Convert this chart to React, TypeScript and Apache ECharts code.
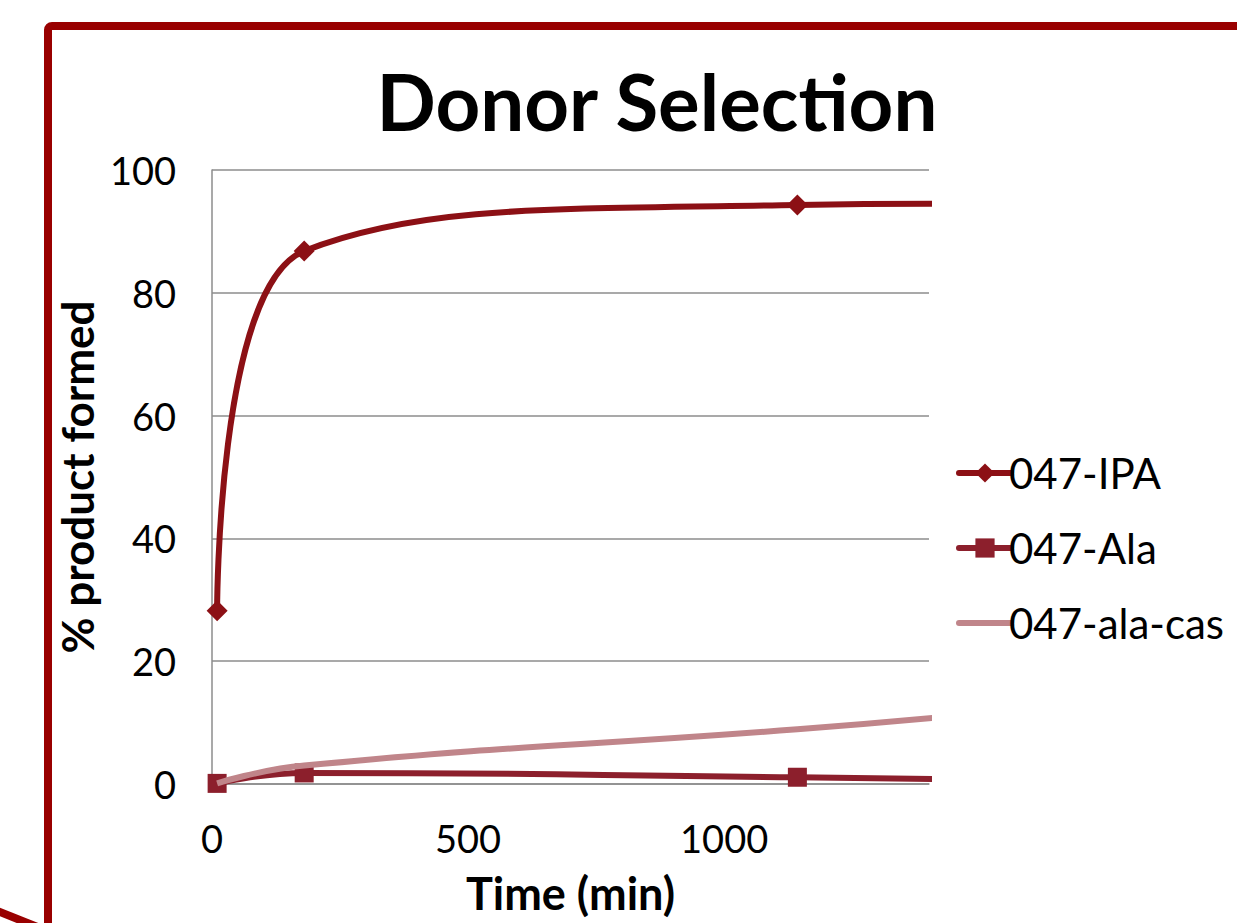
import React, { useEffect, useRef } from "react";
import * as echarts from "echarts";

const titleText = "Donor Selection";
const seriesNames = ["047-IPA", "047-Ala", "047-ala-cas"];
const timeIPA = [10, 180, 1143, 1440];
const valIPA = [28.2, 86.8, 94.3, 94.5];
const timeAla = [10, 180, 1143, 1440];
const valAla = [0.1, 1.8, 1.1, 0.8];
const timeCas = [10, 180, 1143, 1440];
const valCas = [0.1, 3.0, 8.9, 11.0];

const pair = (xs: number[], ys: number[]) => xs.map((x, i) => [x, ys[i]]);

export default function App() {
  const ref = useRef<HTMLDivElement>(null);
  useEffect(() => {
    if (!ref.current) return;
    const chart = echarts.init(ref.current, null, { renderer: "svg" });
    const font = "Lato, 'Open Sans', sans-serif";
    const grey = "#8C8C8C";
    chart.setOption({
      animation: false,
      backgroundColor: "#ffffff",
      textStyle: { fontFamily: font },
      title: {
        text: titleText,
        left: 652,
        top: 57,
        textAlign: "center",
        textStyle: { fontFamily: font, fontSize: 78, fontWeight: "bold", color: "#000" },
      },
      grid: { left: 212, top: 170, right: 308, bottom: 139, containLabel: false },
      legend: {
        orient: "vertical",
        left: 951,
        top: 447,
        itemWidth: 52,
        itemHeight: 24,
        itemGap: 33,
        lineStyle: { width: 6, cap: "round" },
        textStyle: { fontFamily: font, fontSize: 42, color: "#000", lineHeight: 42, padding: [0, 0, 0, -7] },
        data: [
          { name: seriesNames[0] },
          { name: seriesNames[1] },
          { name: seriesNames[2], itemStyle: { opacity: 0 } },
        ],
      },
      xAxis: {
        type: "value",
        min: 0,
        max: 1400,
        interval: 500,
        name: "Time (min)",
        nameLocation: "middle",
        nameGap: 86,
        nameTextStyle: { fontFamily: font, fontSize: 45, fontWeight: "bold", color: "#000" },
        axisLine: { show: true, lineStyle: { color: grey, width: 1.5 } },
        axisTick: { show: false },
        splitLine: { show: false },
        axisLabel: {
          fontFamily: font,
          fontSize: 38,
          color: "#000",
          margin: 35,
          showMaxLabel: false,
          formatter: (v: number) => String(v),
        },
      },
      yAxis: {
        type: "value",
        min: 0,
        max: 100,
        interval: 20,
        name: "% product formed",
        nameLocation: "middle",
        nameGap: 108,
        nameRotate: 90,
        nameTextStyle: { fontFamily: font, fontSize: 44, fontWeight: "bold", color: "#000" },
        axisLine: { show: true, lineStyle: { color: grey, width: 1.5 } },
        axisTick: { show: false },
        splitLine: { show: true, lineStyle: { color: grey, width: 1.5 } },
        axisLabel: { fontFamily: font, fontSize: 38, color: "#000", margin: 36 },
      },
      series: [
        {
          name: seriesNames[0],
          type: "line",
          data: pair(timeIPA, valIPA),
          smooth: 0.5,
          clip: true,
          symbol: "diamond",
          symbolSize: 21,
          showAllSymbol: true,
          itemStyle: { color: "#8C1015" },
          lineStyle: { color: "#8C1015", width: 6 },
          z: 3,
        },
        {
          name: seriesNames[1],
          type: "line",
          data: pair(timeAla, valAla),
          smooth: 0.5,
          clip: true,
          symbol: "rect",
          symbolSize: 19,
          itemStyle: { color: "#8C1F2C" },
          lineStyle: { color: "#8C1F2C", width: 6 },
          z: 2,
        },
        {
          name: seriesNames[2],
          type: "line",
          data: pair(timeCas, valCas),
          smooth: 0.5,
          clip: true,
          symbol: "none",
          itemStyle: { color: "#C0858A" },
          lineStyle: { color: "#C0858A", width: 6 },
          z: 4,
        },
      ],
      graphic: [
        {
          type: "rect",
          shape: { x: 48, y: 26, width: 1300, height: 1000, r: 4 },
          style: { fill: "none", stroke: "#990000", lineWidth: 8 },
          silent: true,
          z: 100,
        },
        {
          type: "line",
          shape: { x1: -5, y1: 910, x2: 40, y2: 928 },
          style: { stroke: "#990000", lineWidth: 8 },
          silent: true,
          z: 100,
        },
      ],
    });
    return () => chart.dispose();
  }, []);
  return (
    <div
      ref={ref}
      style={{ position: "fixed", left: 0, top: 0, width: 1237, height: 923, background: "#fff" }}
    />
  );
}
